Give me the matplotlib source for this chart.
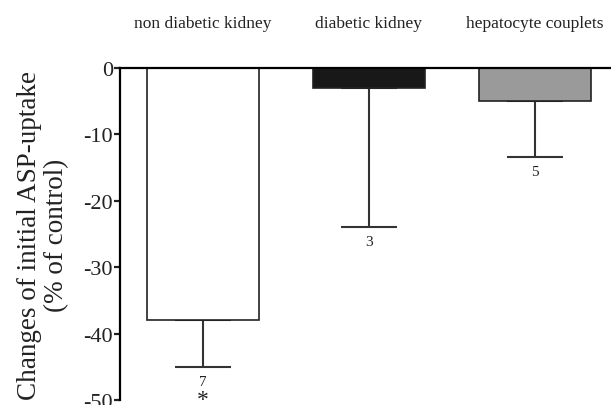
import matplotlib
matplotlib.use("Agg")
from matplotlib import pyplot as plt

groups = ["non diabetic kidney", "diabetic kidney", "hepatocyte couplets"]
changes = [-38.0, -3.0, -5.0]
sem = [7.0, 21.0, 8.4]
n_counts = ["7", "3", "5"]
bar_colors = ["white", "#181818", "#9a9a9a"]

plt.rcParams['font.family'] = ['Liberation Serif', 'DejaVu Serif']
plt.rcParams['axes.unicode_minus'] = False

fig = plt.figure(figsize=(6.11, 4.06), dpi=100)
ax = fig.add_axes([0.1964, 0.0123, 0.8036, 0.8177])

x = list(range(len(groups)))
ax.bar(x, changes, width=0.67, color=bar_colors, edgecolor="#222222", linewidth=1.2, zorder=2)
ax.errorbar(x, changes, yerr=[sem, [0] * len(sem)], fmt="none", ecolor="#333333",
            elinewidth=1.5, capsize=20, capthick=1.5, zorder=1)

for xi, v, e, n in zip(x, changes, sem, n_counts):
    ax.text(xi, v - e - 1.2, n, ha="center", va="top", fontsize=11, color="#222222")
# significance marker under the first group
ax.text(x[0], changes[0] - sem[0] - 5.8, "*", ha="center", va="baseline", fontsize=17,
        color="#222222")

for xi, g in zip(x, groups):
    ax.text(xi, 6.8, g, ha="center", va="center", fontsize=12.5, color="#222222", clip_on=False)

ax.set_xlim(-0.5, 2.458)
ax.set_ylim(-50, 0)
ax.set_yticks([0, -10, -20, -30, -40, -50])
ax.set_xticks([])
ax.spines["right"].set_visible(False)
ax.spines["bottom"].set_visible(False)
ax.spines["left"].set_linewidth(1.6)
ax.spines["top"].set_linewidth(1.6)
ax.tick_params(axis="y", direction="out", length=4, width=1.6, labelsize=16, pad=1, colors="#222222")
ax.set_ylabel("Changes of initial ASP-uptake\n(% of control)", fontsize=19.5, color="#222222",
              linespacing=1.15, labelpad=10)

fig.savefig("out.png", dpi=100)
